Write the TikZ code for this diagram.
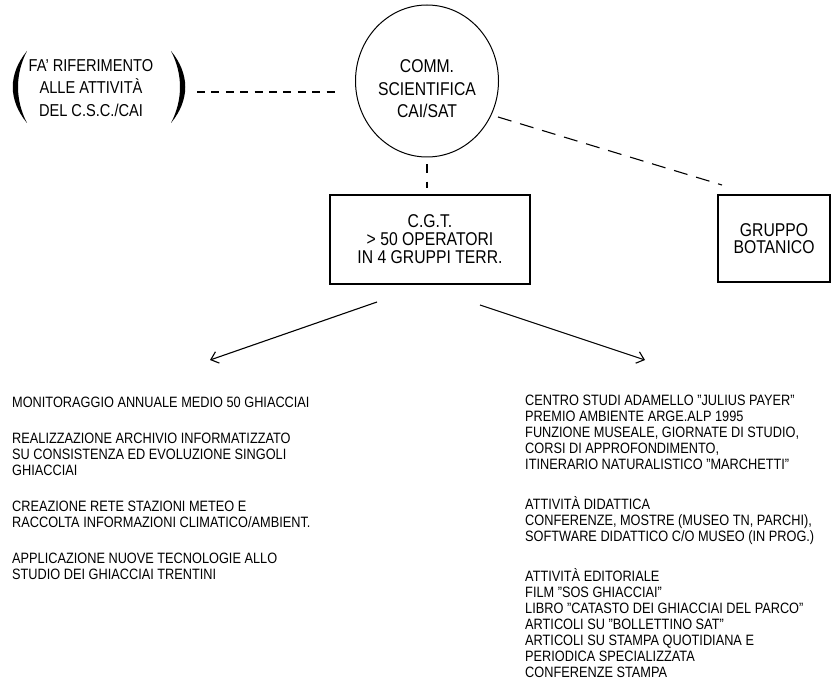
\documentclass[tikz,border=0pt]{standalone}
\usepackage{fontspec}
\setmainfont{Liberation Sans}[FakeStretch=0.85]
\usetikzlibrary{arrows.meta,shapes.geometric}
\setlength{\lineskiplimit}{-100pt}
\newcommand{\toprule}{\rule{0pt}{14pt}}
\begin{document}
\begin{tikzpicture}[x=1pt,y=-1pt,
  dline/.style={line width=1.1pt,dash pattern=on 8pt off 6.4pt},
  dlinelong/.style={line width=1.1pt,dash pattern=on 14pt off 9pt},
  head/.style={font=\fontsize{18.5}{22.5}\selectfont,align=center,inner sep=0pt},
  listtext/.style={font=\fontsize{15}{16}\selectfont,align=left,inner sep=0pt,anchor=north west},
  boxnode/.style={draw,line width=1.2pt,align=center,font=\fontsize{18.5}{18}\selectfont,inner sep=0pt},
  arr/.style={line width=1.1pt,-{Straight Barb[length=7pt,width=12pt]}}]
\useasboundingbox (0,0) rectangle (834,695);

% reference text with parentheses
\node[head,font=\fontsize{17.2}{22.5}\selectfont] (ref) at (91,88) {FA' RIFERIMENTO\\ALLE ATTIVITÀ\\DEL C.S.C./CAI};
\fill (27,51) .. controls (8,74) and (8,100) .. (27,123) .. controls (15,100) and (15,74) .. (27,51) -- cycle;
\fill (171,51) .. controls (190,74) and (190,100) .. (171,123) .. controls (183,100) and (183,74) .. (171,51) -- cycle;

% commission circle
\node[draw,ellipse,line width=1pt,minimum width=143pt,minimum height=152pt,inner sep=0pt] (comm) at (427,81) {};
\node[head] (commtext) at (427,89) {COMM.\\SCIENTIFICA\\CAI/SAT};

% boxes
\node[boxnode,minimum width=200pt,minimum height=89pt] (cgt) at (430,239.5) {C.G.T.\\> 50 OPERATORI\\IN 4 GRUPPI TERR.};
\node[boxnode,minimum width=112pt,minimum height=87pt,font=\fontsize{18.5}{17}\selectfont] (bot) at (774,238.5) {GRUPPO\\BOTANICO};

% dashed connectors
\coordinate (h1) at (197,92);
\coordinate (h2) at (340,92);
\draw[dline] (h1) -- (h2);
\draw[line width=1.1pt,dash pattern=on 8pt off 9pt,shorten <=7pt,shorten >=6pt] (comm.south) -- (comm.south |- cgt.north);
\coordinate (g1) at (498,117);
\coordinate (g2) at (722,185);
\draw[dlinelong] (g1) -- (g2);

% arrows
\coordinate (la) at (377,302);
\coordinate (lt) at (210,360);
\coordinate (ra) at (480,305);
\coordinate (rt) at (645,360);
\draw[arr] (la) -- (lt);
\draw[arr] (ra) -- (rt);

% lists
\node[listtext] (leftlist) at (12,393) {\toprule MONITORAGGIO ANNUALE MEDIO 50 GHIACCIAI\\[20pt]
REALIZZAZIONE ARCHIVIO INFORMATIZZATO\\
SU CONSISTENZA ED EVOLUZIONE SINGOLI\\
GHIACCIAI\\[20pt]
CREAZIONE RETE STAZIONI METEO E\\
RACCOLTA INFORMAZIONI CLIMATICO/AMBIENT.\\[20pt]
APPLICAZIONE NUOVE TECNOLOGIE ALLO\\
STUDIO DEI GHIACCIAI TRENTINI};

\node[listtext] (rightlist) at (525,391) {\toprule CENTRO STUDI ADAMELLO "JULIUS PAYER"\\
PREMIO AMBIENTE ARGE.ALP 1995\\
FUNZIONE MUSEALE, GIORNATE DI STUDIO,\\
CORSI DI APPROFONDIMENTO,\\
ITINERARIO NATURALISTICO "MARCHETTI"\\[24pt]
ATTIVITÀ DIDATTICA\\
CONFERENZE, MOSTRE (MUSEO TN, PARCHI),\\
SOFTWARE DIDATTICO C/O MUSEO (IN PROG.)\\[24pt]
ATTIVITÀ EDITORIALE\\
FILM "SOS GHIACCIAI"\\
LIBRO "CATASTO DEI GHIACCIAI DEL PARCO"\\
ARTICOLI SU "BOLLETTINO SAT"\\
ARTICOLI SU STAMPA QUOTIDIANA E\\
PERIODICA SPECIALIZZATA\\
CONFERENZE STAMPA};
\end{tikzpicture}
\end{document}
